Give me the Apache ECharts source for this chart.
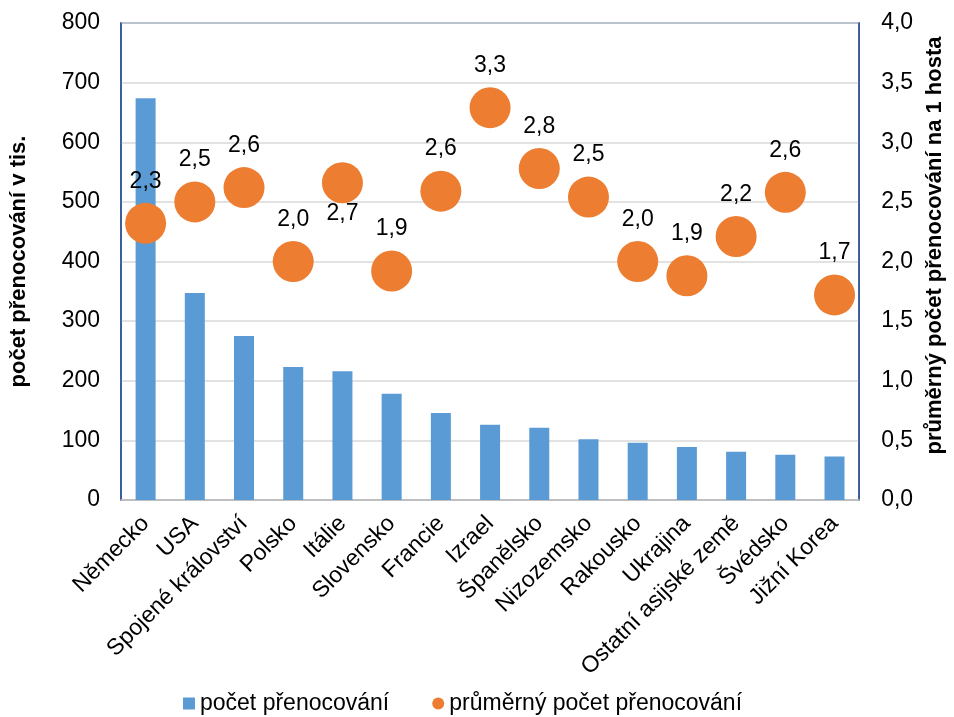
<!DOCTYPE html>
<html>
<head>
<meta charset="utf-8">
<script src="https://cdn.jsdelivr.net/npm/echarts@6/dist/echarts.min.js"></script>
<style>html,body{margin:0;padding:0;background:#fff}#c{width:954px;height:717px}</style>
</head>
<body>
<div id="c"></div>
<script>
var categories = ["Německo","USA","Spojené království","Polsko","Itálie","Slovensko","Francie","Izrael","Španělsko","Nizozemsko","Rakousko","Ukrajina","Ostatní asijské země","Švédsko","Jižní Korea"];
var nights = [674, 347, 275, 223, 216, 178, 146, 126, 121, 102, 96, 89, 81, 76, 73];
var avgNights = [2.32, 2.50, 2.62, 2.00, 2.66, 1.92, 2.59, 3.29, 2.78, 2.54, 2.00, 1.88, 2.21, 2.58, 1.72];
var leftTicks = {min: 0, max: 800, interval: 100};
var rightTicks = {min: 0, max: 4, interval: 0.5};

var font = "Liberation Sans, Arial, sans-serif";
function fmt(v){ return v.toFixed(1).replace('.', ','); }

var scatterData = avgNights.map(function(v, i){
  var d = {value: v};
  if (categories[i] === "Itálie") {
    d.label = {position: 'bottom', distance: -1};
  }
  return d;
});

var chart = echarts.init(document.getElementById('c'));
chart.setOption({
  animation: false,
  textStyle: {fontFamily: font},
  grid: {left: 121, right: 91, top: 23, bottom: 217, show: true, borderColor: '#2F5597', borderWidth: 1.5, backgroundColor: 'transparent'},
  legend: {
    top: 687, left: 178, itemGap: 43, itemWidth: 12, itemHeight: 12,
    textStyle: {fontSize: 23, color: '#000', fontFamily: font},
    data: [{name: 'počet přenocování', icon: 'rect'}, {name: 'průměrný počet přenocování', icon: 'circle'}]
  },
  xAxis: {
    type: 'category', data: categories,
    axisLine: {lineStyle: {color: '#BFBFBF', width: 1.5}},
    axisTick: {show: false},
    axisLabel: {rotate: 45, interval: 0, fontSize: 23, color: '#000', margin: 20, fontFamily: font}
  },
  yAxis: [{
    type: 'value', min: leftTicks.min, max: leftTicks.max, interval: leftTicks.interval,
    name: 'počet přenocování v tis.', nameLocation: 'middle', nameGap: 91,
    nameTextStyle: {fontSize: 22, fontWeight: 'bold', color: '#000', fontFamily: font},
    axisLine: {show: true, lineStyle: {color: '#2F5597', width: 1.5}},
    axisTick: {show: false},
    axisLabel: {fontSize: 23, color: '#000', margin: 21, fontFamily: font},
    splitLine: {lineStyle: {color: '#D9D9D9', width: 1.5}}
  }, {
    type: 'value', min: rightTicks.min, max: rightTicks.max, interval: rightTicks.interval,
    name: 'průměrný počet přenocování na 1 hosta', nameLocation: 'middle', nameGap: 61,
    nameRotate: 90,
    nameTextStyle: {fontSize: 22, fontWeight: 'bold', color: '#000', fontFamily: font, padding: [0, 0, 0, 32]},
    axisLine: {show: true, lineStyle: {color: '#2F5597', width: 1.5}},
    axisTick: {show: false},
    axisLabel: {fontSize: 23, color: '#000', margin: 22, formatter: function(v){ return fmt(v); }, fontFamily: font},
    splitLine: {show: false}
  }],
  series: [{
    name: 'počet přenocování', type: 'bar', data: nights, barWidth: 20,
    itemStyle: {color: '#5B9BD5'}
  }, {
    name: 'průměrný počet přenocování', type: 'scatter', yAxisIndex: 1, data: scatterData,
    symbolSize: 41, itemStyle: {color: '#ED7D31', opacity: 1},
    label: {show: true, position: 'top', distance: 10, fontSize: 23, color: '#000', fontFamily: font,
      formatter: function(p){ return fmt(p.value); }}
  }]
});
</script>
</body>
</html>
